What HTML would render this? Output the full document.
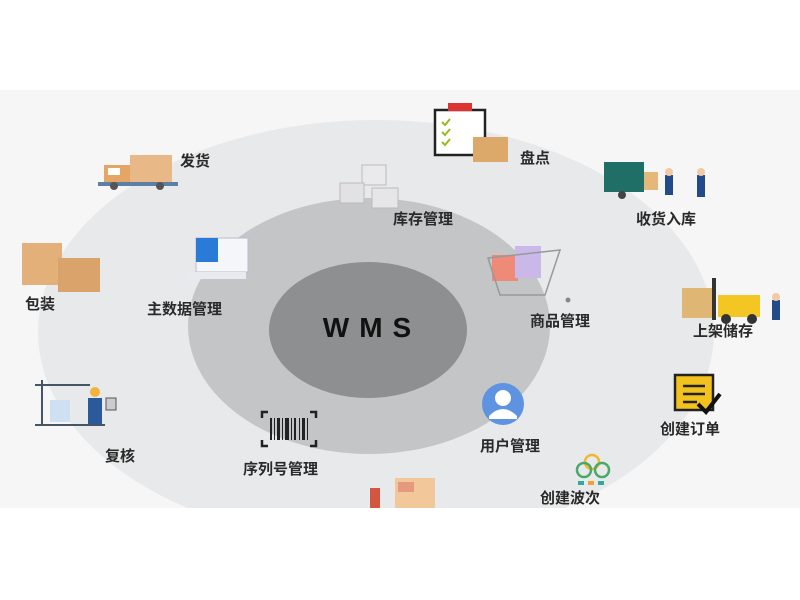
<!DOCTYPE html>
<html><head><meta charset="utf-8"><style>
html,body{margin:0;padding:0;background:#fff;}
svg{display:block}
text{font-family:"Liberation Sans","Noto Sans CJK SC",sans-serif;}
.l{font-size:15px;fill:#2a2a2a;font-weight:600}
</style></head><body>
<svg width="800" height="600" viewBox="0 0 800 600" xmlns="http://www.w3.org/2000/svg">
<defs><clipPath id="band"><rect x="0" y="90" width="800" height="418"/></clipPath></defs>
<rect x="0" y="90" width="800" height="418" fill="#f6f6f7"/>
<g clip-path="url(#band)">
<ellipse cx="376" cy="332" rx="338" ry="212" fill="#e8e9ea"/>
</g>
<ellipse cx="369" cy="326" rx="181" ry="128" fill="#c4c5c7"/>
<ellipse cx="368" cy="330" rx="99" ry="68" fill="#8e8f91"/>
<text x="372" y="337" text-anchor="middle" font-size="28" font-weight="bold" fill="#111" letter-spacing="10">WMS</text>

<!-- 发货 truck -->
<rect x="130" y="155" width="42" height="28" fill="#e9b887"/>
<rect x="104" y="165" width="26" height="18" fill="#e4a565"/>
<rect x="108" y="168" width="12" height="7" fill="#fff"/>
<rect x="98" y="182" width="80" height="4" fill="#5b7fa6"/>
<circle cx="114" cy="186" r="4" fill="#555"/><circle cx="160" cy="186" r="4" fill="#555"/>
<text class="l" x="180" y="166">发货</text>

<!-- 盘点 clipboard -->
<rect x="435" y="110" width="50" height="45" fill="#fff" stroke="#222" stroke-width="2.5"/>
<rect x="448" y="103" width="24" height="8" fill="#d33"/>
<path d="M442 122 l3 3 l5 -6 M442 132 l3 3 l5 -6 M442 142 l3 3 l5 -6" stroke="#9b2" stroke-width="2" fill="none"/>
<rect x="473" y="137" width="35" height="25" fill="#dca96a"/>
<text class="l" x="520" y="163">盘点</text>

<!-- 库存管理 boxes -->
<rect x="362" y="165" width="24" height="20" fill="#eaeaec" stroke="#bbb"/>
<rect x="340" y="183" width="24" height="20" fill="#e2e2e4" stroke="#bbb"/>
<rect x="372" y="188" width="26" height="20" fill="#e6e6e8" stroke="#bbb"/>
<text class="l" x="393" y="224">库存管理</text>

<!-- 收货入库 -->
<rect x="604" y="162" width="40" height="30" fill="#1f6f66"/>
<rect x="644" y="172" width="14" height="18" fill="#e4b878"/>
<circle cx="622" cy="195" r="4" fill="#444"/>
<rect x="665" y="175" width="8" height="20" fill="#234b8a"/><circle cx="669" cy="172" r="4" fill="#f1c9a5"/>
<rect x="697" y="175" width="8" height="22" fill="#234b8a"/><circle cx="701" cy="172" r="4" fill="#f1c9a5"/>
<text class="l" x="636" y="224">收货入库</text>

<!-- 包装 -->
<rect x="22" y="243" width="40" height="42" fill="#e4b07a"/>
<rect x="58" y="258" width="42" height="34" fill="#d9a36b"/>
<text class="l" x="25" y="309">包装</text>

<!-- 主数据管理 -->
<rect x="196" y="238" width="52" height="34" fill="#f4f6fa" stroke="#bbc" />
<rect x="196" y="238" width="22" height="24" fill="#2a7ad8"/>
<rect x="188" y="272" width="58" height="7" fill="#e8eaf0"/>
<text class="l" x="147" y="314">主数据管理</text>

<!-- 商品管理 cart -->
<rect x="492" y="255" width="26" height="26" fill="#f08a78"/>
<rect x="515" y="246" width="26" height="32" fill="#c9b8e8"/>
<path d="M488 258 L560 250 L545 295 L500 295 Z" fill="none" stroke="#999" stroke-width="1.5"/>
<circle cx="568" cy="300" r="2.5" fill="#888"/>
<text class="l" x="530" y="326">商品管理</text>

<!-- 上架储存 forklift -->
<rect x="682" y="288" width="30" height="30" fill="#dfb674"/>
<rect x="712" y="278" width="4" height="42" fill="#333"/>
<rect x="718" y="295" width="42" height="22" fill="#f3c623"/>
<circle cx="726" cy="319" r="5" fill="#333"/><circle cx="752" cy="319" r="5" fill="#333"/>
<rect x="772" y="300" width="8" height="20" fill="#234b8a"/><circle cx="776" cy="297" r="4" fill="#f1c9a5"/>
<text class="l" x="693" y="336">上架储存</text>

<!-- 创建订单 -->
<rect x="675" y="375" width="38" height="35" fill="#f4c21d" stroke="#222" stroke-width="2.5"/>
<path d="M683 386 h22 M683 394 h22 M683 402 h14" stroke="#222" stroke-width="2.5"/>
<path d="M698 404 l8 8 l14 -18" stroke="#111" stroke-width="4" fill="none"/>
<text class="l" x="660" y="434">创建订单</text>

<!-- 用户管理 -->
<circle cx="503" cy="404" r="21" fill="#5d93e0"/>
<circle cx="503" cy="398" r="8" fill="#fff"/>
<path d="M489 416 q14 -14 28 0 v3 h-28 z" fill="#fff"/>
<text class="l" x="480" y="451">用户管理</text>

<!-- 复核 -->
<path d="M35 385 h55 M42 380 v45 M35 425 h70" stroke="#456" stroke-width="2" fill="none"/>
<rect x="50" y="400" width="20" height="22" fill="#cfe0f2"/>
<rect x="88" y="398" width="14" height="26" fill="#2b5a9a"/><circle cx="95" cy="392" r="5" fill="#f3b33d"/>
<rect x="106" y="398" width="10" height="12" fill="#ccc" stroke="#555"/>
<text class="l" x="105" y="461">复核</text>

<!-- 序列号管理 barcode -->
<path d="M262 418 v-6 h6 M310 412 h6 v6 M262 440 v6 h6 M316 440 v6 h-6" stroke="#222" stroke-width="2.5" fill="none"/>
<g fill="#222"><rect x="270" y="418" width="2" height="22"/><rect x="274" y="418" width="1" height="22"/><rect x="277" y="418" width="3" height="22"/><rect x="282" y="418" width="1" height="22"/><rect x="285" y="418" width="4" height="22"/><rect x="291" y="418" width="1" height="22"/><rect x="294" y="418" width="2" height="22"/><rect x="299" y="418" width="1" height="22"/><rect x="302" y="418" width="3" height="22"/><rect x="307" y="418" width="1" height="22"/></g>
<text class="l" x="243" y="474">序列号管理</text>

<!-- bottom shelf -->
<rect x="395" y="478" width="40" height="30" fill="#f2c79a"/>
<rect x="398" y="482" width="16" height="10" fill="#e59a7f"/>
<rect x="370" y="488" width="10" height="20" fill="#d45540"/>

<!-- 创建波次 -->
<circle cx="592" cy="462" r="7" fill="none" stroke="#f2b630" stroke-width="2.5"/>
<circle cx="584" cy="470" r="7" fill="none" stroke="#49a86a" stroke-width="2.5"/>
<circle cx="602" cy="470" r="7" fill="none" stroke="#49a86a" stroke-width="2.5"/>
<rect x="578" y="481" width="6" height="4" fill="#3a9"/><rect x="588" y="481" width="6" height="4" fill="#f2a030"/><rect x="598" y="481" width="6" height="4" fill="#3a9"/>
<text class="l" x="540" y="503">创建波次</text>
</svg>
</body></html>
